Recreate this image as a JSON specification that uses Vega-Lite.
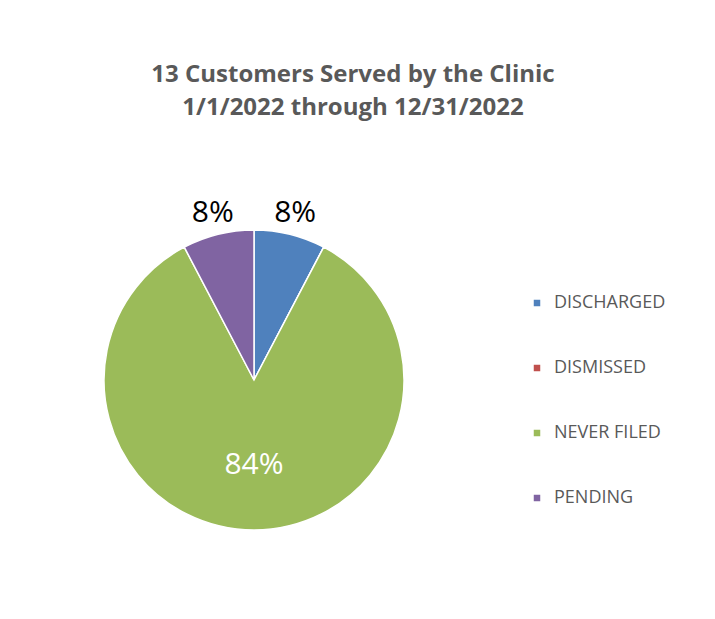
{
  "$schema": "https://vega.github.io/schema/vega-lite/v6.json",
  "autosize": {"type": "none"},
  "width": 508,
  "height": 380,
  "padding": {"top": 190, "left": 0, "right": 207, "bottom": 49},
  "background": "white",
  "title": {
    "text": ["13 Customers Served by the Clinic", "1/1/2022 through 12/31/2022"],
    "anchor": "middle",
    "dx": 99,
    "offset": 70,
    "fontSize": 24,
    "fontWeight": "bold",
    "font": "Open Sans",
    "color": "#595959",
    "lineHeight": 33
  },
  "data": {
    "values": [
      {"status": "DISCHARGED", "count": 1, "label": "8%"},
      {"status": "DISMISSED", "count": 0, "label": ""},
      {"status": "NEVER FILED", "count": 11, "label": "84%"},
      {"status": "PENDING", "count": 1, "label": "8%"}
    ]
  },
  "encoding": {
    "theta": {"field": "count", "type": "quantitative", "stack": true},
    "color": {
      "field": "status",
      "type": "nominal",
      "sort": ["DISCHARGED", "DISMISSED", "NEVER FILED", "PENDING"],
      "scale": {
        "domain": ["DISCHARGED", "DISMISSED", "NEVER FILED", "PENDING"],
        "range": ["#4F81BD", "#C0504D", "#9BBB59", "#8064A2"]
      },
      "legend": {
        "title": null,
        "orient": "none",
        "legendX": 528,
        "legendY": 104,
        "symbolType": "square",
        "symbolSize": 64,
        "labelFontSize": 18,
        "labelFont": "Open Sans",
        "labelColor": "#595959",
        "rowPadding": 47,
        "labelOffset": 8
      }
    },
    "order": {"field": "status", "sort": "ascending"}
  },
  "layer": [
    {
      "mark": {"type": "arc", "outerRadius": 150, "stroke": "white", "strokeWidth": 1.5}
    },
    {
      "mark": {"type": "text", "radius": 172, "fontSize": 30, "font": "Open Sans"},
      "encoding": {
        "text": {"condition": {"test": "datum.status !== 'NEVER FILED'", "field": "label"}, "value": ""},
        "color": {"value": "black"}
      }
    },
    {
      "mark": {"type": "text", "radius": 85, "fontSize": 30, "font": "Open Sans"},
      "encoding": {
        "text": {"condition": {"test": "datum.status === 'NEVER FILED'", "field": "label"}, "value": ""},
        "color": {"value": "white"}
      }
    }
  ]
}
